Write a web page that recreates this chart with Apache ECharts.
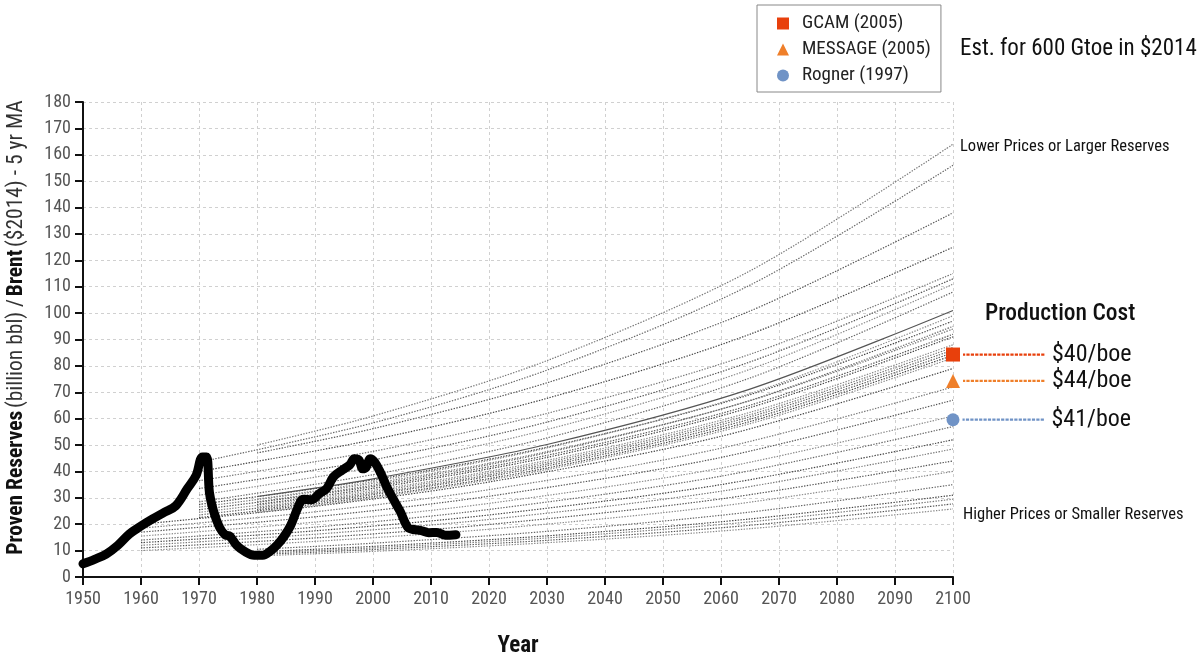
<!DOCTYPE html>
<html>
<head>
<meta charset="utf-8">
<script src="https://cdn.jsdelivr.net/npm/echarts@6/dist/echarts.min.js"></script>
<style>
  html, body { margin: 0; padding: 0; background: #fff; }
  #chart { width: 1199px; height: 652px; }
</style>
</head>
<body>
<div id="chart"></div>
<script>
// Brent crude, $2014, 5-year moving average
const brentYears = [1950, 1952, 1954, 1956, 1958, 1960, 1962, 1964, 1966, 1968, 1969.5, 1970.6, 1971.3, 1971.8, 1972.5, 1973.5, 1974.5, 1975.3, 1976.5, 1978, 1979.5, 1981, 1982.3, 1983.5, 1984.7, 1985.8, 1987, 1988, 1989.5, 1990.7, 1992, 1993.2, 1994.7, 1996, 1996.8, 1997.6, 1998.2, 1998.8, 1999.5, 2000.3, 2001.3, 2002.4, 2003.5, 2004.7, 2006, 2007, 2008.3, 2009.6, 2011, 2012.5, 2014.3];
const brentValues = [5, 6.7, 8.7, 12, 16.3, 19.3, 22, 24.5, 27, 33.5, 38.5, 45.5, 45.5, 32, 25, 19, 16, 15.5, 12, 9.5, 8.2, 8.2, 9.8, 12.2, 15.5, 19.5, 26, 29.5, 29.3, 31.5, 33.5, 38, 40.5, 42.5, 44.8, 44.3, 41, 41.5, 44.8, 43.5, 39.5, 34, 29.5, 24.8, 18.8, 18, 17.6, 16.8, 16.9, 15.8, 16];

// Price paths implied by reserve estimates, one row per path
const from1960Years = [1960, 1990, 2020, 2060, 2100];
const from1960 = [
  [20, 26.8, 36.0, 53.3, 79],
  [18.5, 24.7, 33.1, 48.8, 72],
  [17, 22.8, 30.6, 45.3, 67],
  [15.5, 20.8, 27.9, 41.3, 61],
  [14, 18.9, 25.6, 38.2, 57],
  [13, 17.5, 23.5, 35.0, 52],
  [12, 16.2, 21.8, 32.5, 48.5],
  [11, 14.8, 19.9, 29.6, 44],
  [10, 13.5, 18.1, 26.9, 40]
];
const from1970Years = [1970, 2000, 2030, 2065, 2100];
const from1970 = [
  [43.5, 58.4, 78.4, 110.6, 156],
  [40, 52.0, 67.7, 92.0, 125],
  [36.5, 47.6, 62.0, 84.4, 115],
  [33.5, 44.4, 58.7, 81.5, 113],
  [31, 41.6, 55.9, 78.7, 111],
  [28.5, 38.8, 52.7, 75.4, 108],
  [27.5, 36.8, 49.2, 69.1, 97],
  [26.5, 35.5, 47.5, 66.8, 94],
  [25.5, 34.3, 46.1, 65.1, 92],
  [24.5, 32.9, 44.2, 62.4, 88],
  [23.5, 31.7, 42.8, 60.7, 86],
  [22.5, 30.5, 41.3, 58.9, 84]
];
const from1980Years = [1980, 2000, 2030, 2065, 2100];
const from1980 = [
  [50, 61.0, 82.0, 116.0, 164],
  [47, 56.2, 73.6, 100.8, 138],
  [29.5, 36.1, 48.9, 69.5, 99],
  [28.5, 34.8, 47.1, 66.9, 95],
  [27.5, 33.6, 45.3, 64.2, 91],
  [26.5, 32.3, 43.5, 61.5, 87],
  [25.5, 31.2, 42.1, 59.8, 85],
  [24.5, 30.0, 40.7, 58.1, 83],
  [10.5, 12.8, 17.3, 24.6, 35],
  [9.5, 11.6, 15.6, 22.0, 31],
  [9, 11.0, 14.8, 20.9, 29.5],
  [8.5, 10.4, 13.9, 19.6, 27.7],
  [8, 9.7, 13.0, 18.3, 25.8]
];
const central1980 = [30.5, 37.2, 50.2, 71.2, 101];

// Production cost estimates, placed at 2100
const models = ['GCAM (2005)', 'MESSAGE (2005)', 'Rogner (1997)'];
const modelValues = [84.3, 74.3, 59.6];
const costLabels = ['$40/boe', '$44/boe', '$41/boe'];
const modelColors = ['#e8400c', '#ef7f2a', '#7093c6'];
const modelSymbols = ['rect', 'triangle', 'circle'];

const xTicks = { min: 1950, max: 2100, interval: 10 };
const yTicks = { min: 0, max: 180, interval: 10 };

const FONT = 'Roboto Condensed, Liberation Sans Narrow, DejaVu Sans Condensed, Roboto, sans-serif';
const grays = ['#444', '#777', '#555', '#8a8a8a', '#666'];

function zipPts(xs, ys) { return xs.map((x, i) => [x, ys[i]]); }

const series = [];
let k = 0;
function addPaths(xs, rows) {
  rows.forEach(r => {
    series.push({
      type: 'line', data: zipPts(xs, r), smooth: 0.3, symbol: 'none', silent: true,
      lineStyle: { color: grays[k++ % grays.length], width: 1.2, type: [1.4, 1.4] },
      z: 2
    });
  });
}
addPaths(from1960Years, from1960);
addPaths(from1970Years, from1970);
addPaths(from1980Years, from1980);
series.push({
  type: 'line', data: zipPts(from1980Years, central1980), smooth: 0.3, symbol: 'none', silent: true,
  lineStyle: { color: '#555', width: 1.2 }, z: 3
});

series.push({
  type: 'line', name: 'Brent', data: zipPts(brentYears, brentValues), smooth: 0.35, symbol: 'none',
  lineStyle: { color: '#000', width: 9, cap: 'round', join: 'round' }, z: 5
});

// each marker carries a dotted leader and its cost as a rich label
models.forEach((m, i) => {
  series.push({
    type: 'scatter', name: m, data: [[2100, modelValues[i]]], symbol: modelSymbols[i],
    symbolSize: modelSymbols[i] === 'circle' ? 13 : 14, clip: false,
    itemStyle: { color: modelColors[i], opacity: 1 },
    label: {
      show: true, position: 'right', distance: 3,
      formatter: '{lead|}{t|' + costLabels[i] + '}',
      rich: {
        lead: {
          width: 82, height: 0, borderWidth: 2.2, borderColor: modelColors[i],
          borderType: 'dotted'
        },
        t: { fontSize: 24, color: '#111', fontFamily: FONT, padding: [0, 0, 0, 7] }
      }
    },
    z: 8
  });
});

const chart = echarts.init(document.getElementById('chart'), null, { renderer: 'canvas' });
const titleStyle = (size, weight) => ({ fontSize: size, fontWeight: weight, color: '#111', fontFamily: FONT });
chart.setOption({
  animation: false,
  backgroundColor: '#fff',
  textStyle: { fontFamily: FONT },
  grid: { left: 83, right: 246, top: 102, bottom: 75, containLabel: false, outerBoundsMode: 'none' },
  title: [
    { text: 'Est. for 600 Gtoe in $2014', left: 960, top: 38, padding: 0, textStyle: titleStyle(23, 'normal') },
    { text: 'Lower Prices or Larger Reserves', left: 960, top: 138, padding: 0, textStyle: titleStyle(16.5, 'normal') },
    { text: 'Production Cost', left: 985, top: 302, padding: 0, textStyle: titleStyle(23.5, 500) },
    { text: 'Higher Prices or Smaller Reserves', left: 963, top: 506, padding: 0, textStyle: titleStyle(16.5, 'normal') }
  ],
  legend: {
    data: models.map((m, i) => ({ name: m, icon: modelSymbols[i] })),
    orient: 'vertical', left: 757, top: 5,
    padding: [9, 10, 7, 20], itemGap: 7, itemWidth: 12, itemHeight: 12,
    borderColor: '#888', borderWidth: 1, borderRadius: 0,
    textStyle: { fontSize: 19, color: '#222', fontFamily: FONT, padding: [0, 0, 0, 8] }
  },
  xAxis: {
    type: 'value', min: xTicks.min, max: xTicks.max, interval: xTicks.interval,
    name: 'Year', nameLocation: 'middle', nameGap: 58,
    nameTextStyle: { fontSize: 23, fontWeight: 'bold', color: '#111', fontFamily: FONT },
    axisLine: { show: true, lineStyle: { color: '#111', width: 2 } },
    axisTick: { show: true, length: 8, lineStyle: { color: '#111', width: 2 } },
    axisLabel: { fontSize: 18, color: '#555', margin: 13, fontFamily: FONT, formatter: v => String(v) },
    splitLine: { show: true, lineStyle: { color: '#d0d0d0', type: [3, 3], width: 1 } }
  },
  yAxis: {
    type: 'value', min: yTicks.min, max: yTicks.max, interval: yTicks.interval,
    name: '{b|Proven Reserves} {n|(billion bbl) /} {b|Brent} {n|($2014) - 5 yr MA}',
    nameLocation: 'middle', nameGap: 55, nameRotate: 90,
    nameTextStyle: {
      padding: [0, 0, 0, 24],
      rich: {
        b: { fontSize: 21.5, fontWeight: 'bold', color: '#111', fontFamily: FONT },
        n: { fontSize: 21.5, color: '#333', fontFamily: FONT }
      }
    },
    axisLine: { show: true, lineStyle: { color: '#111', width: 2 } },
    axisTick: { show: true, length: 8, lineStyle: { color: '#111', width: 2 } },
    axisLabel: { fontSize: 18, color: '#555', margin: 12, fontFamily: FONT },
    splitLine: { show: true, lineStyle: { color: '#d0d0d0', type: [3, 3], width: 1 } }
  },
  series: series
});
</script>
</body>
</html>
